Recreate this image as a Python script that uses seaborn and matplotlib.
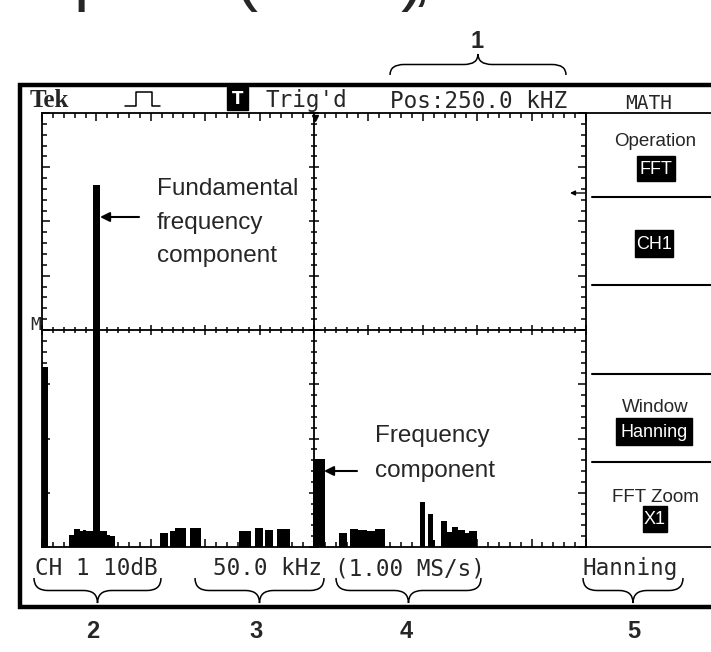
import matplotlib
matplotlib.use("Agg")
import matplotlib.pyplot as plt
import seaborn as sns
import numpy as np
from matplotlib.path import Path
from matplotlib.patches import PathPatch, Rectangle
from matplotlib.ticker import MultipleLocator

seg_start_khz = [0.0, 24.8, 29.4, 34.9, 37.7, 40.4, 46.9, 53.3, 59.7, 62.5,
                 108.5, 117.6, 122.2, 136.0, 181.1, 195.8, 205.0, 216.0, 249.1,
                 273.0, 283.1, 290.4, 298.7, 306.1, 347.4, 354.8, 359.4, 366.7,
                 372.2, 376.8, 382.4, 388.8, 392.5]
seg_end_khz = [5.5, 29.4, 34.9, 37.7, 40.4, 46.9, 53.3, 59.7, 62.5, 67.1,
               115.8, 122.2, 132.4, 146.1, 192.1, 203.1, 212.3, 227.9, 260.1,
               280.3, 290.4, 298.7, 306.1, 315.3, 352.0, 359.4, 361.2, 372.2,
               376.8, 382.4, 388.8, 392.5, 399.8]
seg_level_db = [33.2, 2.2, 3.3, 2.9, 3.1, 2.9, 66.7, 2.9, 2.2, 2.0,
                2.6, 2.9, 3.5, 3.5, 2.9, 3.5, 3.1, 3.3, 16.2,
                2.6, 3.3, 3.1, 2.9, 3.3, 8.3, 6.1, 1.3, 4.8,
                2.8, 3.7, 3.1, 2.6, 2.9]

span_khz = 500.0      # 10 divisions x 50 kHz
range_db = 80.0       # 8 divisions x 10 dB

header_labels = ["Tek", "Trig'd", "Pos:250.0 kHZ", "MATH"]
bottom_labels = ["CH 1 10dB", "50.0 kHz", "(1.00 MS/s)", "Hanning"]
menu_titles = ["Operation", "", "", "Window", "FFT Zoom"]
menu_values = ["FFT", "CH1", "", "Hanning", "X1"]
callout_numbers = ["1", "2", "3", "4", "5"]

# ---------------- style ----------------
sns.set_style("white")
plt.rcParams["font.family"] = ["DejaVu Sans"]

W, H = 711, 652
fig = plt.figure(figsize=(W / 100, H / 100), dpi=100)

def frac_rect(x0, y0, x1, y1):
    return [x0 / W, (H - y1) / H, (x1 - x0) / W, (y1 - y0) / H]

grat = frac_rect(42, 113, 586, 547)

# graticule + spectrum
ax = fig.add_axes(grat)
edges = [seg_start_khz[0]]
weights = []
for s, e, l in zip(seg_start_khz, seg_end_khz, seg_level_db):
    if s > edges[-1] + 1e-9:
        weights.append(0.0)
        edges.append(s)
    weights.append(l)
    edges.append(e)
centers = [(a + b) / 2 for a, b in zip(edges[:-1], edges[1:])]
sns.histplot(x=centers, weights=weights, bins=edges, color="black", alpha=1,
             linewidth=0, element="bars", fill=True, ax=ax)
ax.set_xlim(0, span_khz)
ax.set_ylim(0, range_db)
ax.set_xlabel("")
ax.set_ylabel("")
ax.xaxis.set_major_locator(MultipleLocator(50))
ax.xaxis.set_minor_locator(MultipleLocator(10))
ax.yaxis.set_major_locator(MultipleLocator(10))
ax.yaxis.set_minor_locator(MultipleLocator(2))
ax.tick_params(which="both", direction="in", top=True, right=True, bottom=True, left=True,
               labelbottom=False, labelleft=False, width=1.1, color="black")
ax.tick_params(which="major", length=5.8)
ax.tick_params(which="minor", length=3.6)
for sp in ax.spines.values():
    sp.set_visible(True)
    sp.set_color("black")
    sp.set_linewidth(1.3)

# centre cross with ticks on both sides
ax2 = fig.add_axes(grat)
ax2.set_xlim(0, span_khz)
ax2.set_ylim(0, range_db)
ax2.patch.set_visible(False)
ax2.spines["top"].set_visible(False)
ax2.spines["right"].set_visible(False)
ax2.spines["left"].set_position(("data", span_khz / 2))
ax2.spines["bottom"].set_position(("data", range_db / 2))
for k in ("left", "bottom"):
    ax2.spines[k].set_visible(True)
    ax2.spines[k].set_linewidth(1.3)
    ax2.spines[k].set_color("black")
ax2.xaxis.set_major_locator(MultipleLocator(50))
ax2.xaxis.set_minor_locator(MultipleLocator(10))
ax2.yaxis.set_major_locator(MultipleLocator(10))
ax2.yaxis.set_minor_locator(MultipleLocator(2))
ax2.tick_params(which="both", direction="inout", bottom=True, left=True, top=False, right=False,
                labelbottom=False, labelleft=False, width=1.1, color="black")
ax2.tick_params(which="major", length=7.0)
ax2.tick_params(which="minor", length=4.2)

# ---------------- overlay in pixel coordinates ----------------
ov = fig.add_axes([0, 0, 1, 1])
ov.set_xlim(0, W)
ov.set_ylim(H, 0)
ov.axis("off")

K = "black"
MONO = "DejaVu Sans Mono"
SANS = ["Liberation Sans", "DejaVu Sans"]

# outer frame
ov.plot([W, 20, 20, W], [85, 85, 607, 607], color=K, lw=3.2, solid_joinstyle="miter",
        solid_capstyle="butt")
# menu separators
ov.plot([586, W], [112.5, 112.5], color=K, lw=1.3)
ov.plot([586, W], [546.5, 546.5], color=K, lw=1.3)
for yy in (197, 285, 374, 462):
    ov.plot([592, W], [yy, yy], color=K, lw=1.5)

# header
ov.text(30, 107, header_labels[0], fontsize=18, fontweight="bold",
        family=["Liberation Serif", "DejaVu Serif"], va="baseline", ha="left")
ov.plot([125, 136, 136, 152, 152, 160], [106, 106, 92, 92, 106, 106], color=K, lw=1.1)
ov.add_patch(Rectangle((227, 87), 21, 23, color=K))
ov.text(237.5, 99, "T", color="white", fontsize=12, fontweight="bold", ha="center", va="center")
ov.text(265, 107, header_labels[1], fontsize=16.3, family=MONO, va="baseline")
ov.text(390, 108, header_labels[2], fontsize=16.3, family=MONO, va="baseline")
ov.text(625, 109, header_labels[3], fontsize=14, family=MONO, va="baseline")

# markers on graticule
ov.plot(315, 118, marker="v", ms=4, color=K)
ov.text(30, 330, "M", fontsize=13, family=MONO, va="baseline")
ov.annotate("", xy=(570, 193), xytext=(585, 193),
            arrowprops=dict(arrowstyle="-|>", lw=1.0, color=K, mutation_scale=7,
                            shrinkA=0, shrinkB=0))

# menu
menu_y_title = [146, None, None, 412, 502]
menu_boxes = [(637, 156, 38, 25), (635, 230, 38, 27), None, (616, 418, 76, 27), (643, 506, 24, 26)]
for t, yb in zip(menu_titles, menu_y_title):
    if t:
        ov.text(655, yb, t, fontsize=13.5, family=SANS, ha="center", va="baseline")
for v, b in zip(menu_values, menu_boxes):
    if b:
        x, y, w, h = b
        ov.add_patch(Rectangle((x, y), w, h, color=K))
        ov.text(x + w / 2, y + h / 2 + 1, v, color="white", fontsize=13, family=SANS,
                ha="center", va="center")

# annotations inside screen
for txt, yb in zip(["Fundamental", "frequency", "component"], [195, 229, 262]):
    ov.text(157, yb, txt, fontsize=17.5, family=SANS, va="baseline")
for txt, yb in zip(["Frequency", "component"], [442, 477]):
    ov.text(375, yb, txt, fontsize=17.5, family=SANS, va="baseline")
arrow_kw = dict(arrowstyle="-|>", lw=1.5, color=K, mutation_scale=14, shrinkA=0, shrinkB=0)
ov.annotate("", xy=(100, 217), xytext=(139, 217), arrowprops=arrow_kw)
ov.annotate("", xy=(324, 471), xytext=(357, 471), arrowprops=arrow_kw)

# bottom readouts
for txt, x0 in zip(bottom_labels, [35, 213, 335, 583]):
    ov.text(x0, 575, txt, fontsize=16.3, family=MONO, va="baseline")


def brace(x0, x1, y_edge, y_tip, r=14, lw=1.1):
    xm = (x0 + x1) / 2
    ym = (y_edge + y_tip) / 2
    verts = [(x0, y_edge), (x0, ym), (x0 + r, ym),
             (xm - r, ym), (xm, ym), (xm, y_tip),
             (xm, ym), (xm + r, ym),
             (x1 - r, ym), (x1, ym), (x1, y_edge)]
    codes = [Path.MOVETO, Path.CURVE3, Path.CURVE3,
             Path.LINETO, Path.CURVE3, Path.CURVE3,
             Path.CURVE3, Path.CURVE3,
             Path.LINETO, Path.CURVE3, Path.CURVE3]
    ov.add_patch(PathPatch(Path(verts, codes), fill=False, lw=lw, color=K))


brace(390, 566, 75, 54)
for x0, x1 in [(34, 161), (195, 324), (336, 481), (583, 683)]:
    brace(x0, x1, 578, 603)

# callout numbers
for n, (x, y) in zip(callout_numbers, [(477, 41), (93, 632), (256, 632), (406, 632), (634, 632)]):
    ov.text(x, y, n, fontsize=17, fontweight="bold", family=SANS, ha="center", va="center")

# clipped caption fragments at the very top (only their lower parts are on the page)
for txt, x in [("p", 74), ("(", 235), (")", 401), (",", 412)]:
    ov.text(x, -2, txt, fontsize=50, family=SANS, va="baseline", ha="left")

fig.savefig("out.png", dpi=100)
